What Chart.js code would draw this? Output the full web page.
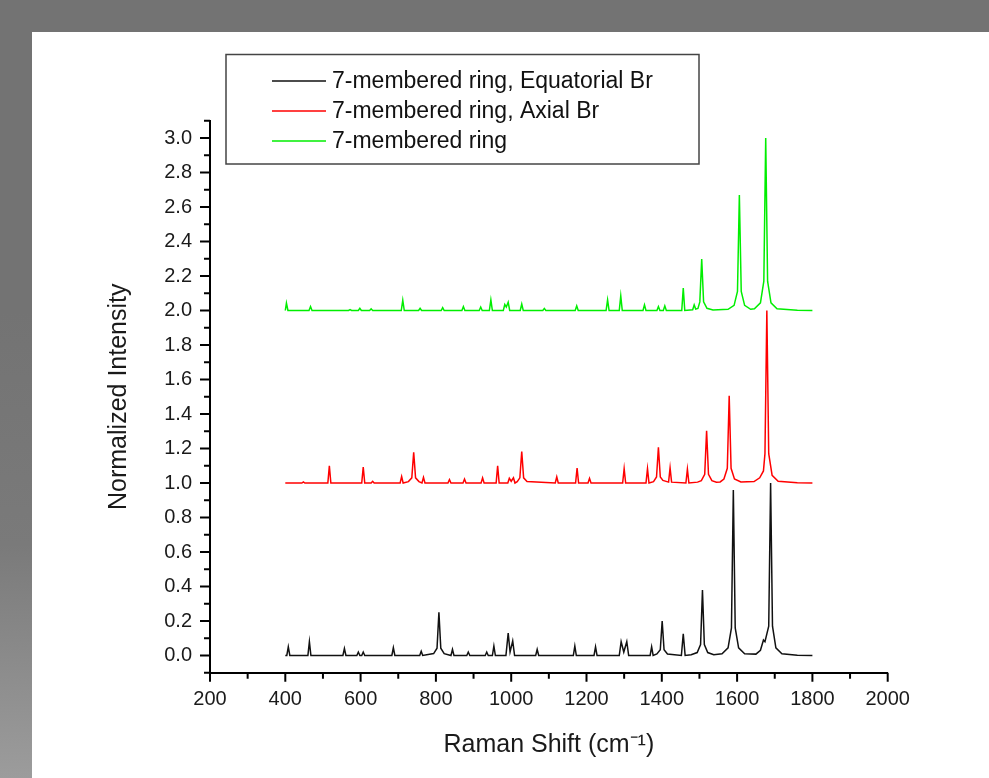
<!DOCTYPE html>
<html>
<head>
<meta charset="utf-8">
<script src="https://cdn.jsdelivr.net/npm/chart.js@4.4.1/dist/chart.umd.min.js"></script>
<style>
  html, body { margin: 0; padding: 0; }
  body {
    width: 989px; height: 778px; position: relative; overflow: hidden;
    background: linear-gradient(to top, #9c9c9c 0%, #7a7a7a 30%, #737373 60%, #737373 100%);
  }
  #panel { position: absolute; left: 32px; top: 32px; right: 0; bottom: 0; background: #fff; }
  #chart { position: absolute; left: 0; top: 0; }
</style>
</head>
<body>
<div id="panel"></div>
<canvas id="chart" width="989" height="778"></canvas>
<script>
/* ===== DATA ===== */
const seriesNames = ["7-membered ring, Equatorial Br", "7-membered ring, Axial Br", "7-membered ring"];
const seriesColors = ["#111111", "#ff0000", "#00ee00"];

// 7-membered ring, Equatorial Br (baseline 0)
const eqShift = [400, 404, 408, 412, 460, 464, 468, 553, 557, 561, 590, 594, 598, 603, 607, 611,
  683, 687, 691, 757, 761, 765, 794, 803, 808, 813, 822, 840, 844, 848, 882, 886, 890,
  931, 935, 939, 950, 954, 958, 986, 992, 997, 1004, 1009, 1065, 1069, 1073,
  1165, 1169, 1173, 1220, 1224, 1228, 1287, 1292, 1299, 1307, 1312, 1369, 1373, 1377,
  1387, 1396, 1401, 1406, 1415, 1452, 1457, 1462,
  1478, 1494, 1503, 1508, 1513, 1522, 1538,
  1560, 1576, 1585, 1590, 1595, 1604, 1620,
  1650, 1662, 1670, 1674, 1684, 1689, 1694, 1703, 1719, 1760, 1800];
const eqInt = [0, 0, 0.05, 0, 0, 0.08, 0, 0, 0.04, 0, 0, 0.02, 0, 0, 0.02, 0,
  0, 0.045, 0, 0, 0.025, 0, 0.011, 0.042, 0.25, 0.042, 0.011, 0, 0.035, 0, 0, 0.02, 0,
  0, 0.02, 0, 0, 0.055, 0, 0, 0.13, 0.02, 0.085, 0, 0, 0.035, 0,
  0, 0.055, 0, 0, 0.05, 0, 0, 0.08, 0.02, 0.08, 0, 0, 0.05, 0,
  0.009, 0.033, 0.2, 0.033, 0.009, 0, 0.125, 0,
  0.004, 0.017, 0.063, 0.38, 0.063, 0.017, 0.004,
  0.01, 0.044, 0.16, 0.96, 0.16, 0.044, 0.01,
  0.008, 0.03, 0.09, 0.08, 0.17, 1.0, 0.17, 0.044, 0.01, 0.002, 0];

// 7-membered ring, Axial Br (baseline 1)
const axShift = [400, 444, 448, 452, 513, 517, 521, 603, 607, 611, 628, 632, 636, 705, 709, 713,
  727, 736, 741, 746, 755, 763, 767, 771, 832, 836, 840, 872, 876, 880, 920, 924, 928,
  960, 964, 968, 991, 995, 1000, 1006, 1010, 1016, 1023, 1028, 1033, 1042,
  1117, 1121, 1125, 1171, 1175, 1179, 1204, 1208, 1212, 1296, 1300, 1304, 1358, 1362, 1366,
  1378, 1386, 1391, 1396, 1403, 1418, 1422, 1426, 1464, 1468, 1472,
  1495, 1505, 1514, 1519, 1524, 1533, 1545,
  1555, 1565, 1574, 1579, 1584, 1593, 1610,
  1645, 1660, 1670, 1674, 1679, 1684, 1693, 1709, 1760, 1800];
const axInt = [1, 1, 1.006, 1, 1, 1.1, 1, 1, 1.093, 1, 1, 1.01, 1, 1, 1.037, 1,
  1.008, 1.03, 1.178, 1.03, 1.008, 1, 1.033, 1, 1, 1.02, 1, 1, 1.023, 1, 1, 1.03, 1,
  1, 1.1, 1, 1, 1.027, 1.01, 1.03, 1, 1.008, 1.03, 1.183, 1.03, 1.008,
  1, 1.035, 1, 1, 1.087, 1, 1, 1.027, 1, 1, 1.083, 1, 1, 1.083, 1,
  1.008, 1.035, 1.207, 1.035, 1.015, 1.005, 1.088, 1.005, 1, 1.08, 1,
  1.005, 1.014, 1.05, 1.303, 1.05, 1.014, 1.005,
  1.006, 1.023, 1.085, 1.506, 1.085, 1.023, 1.006,
  1.008, 1.03, 1.07, 1.17, 2.0, 1.17, 1.044, 1.01, 1.002, 1];

// 7-membered ring (baseline 2)
const ringShift = [400, 403, 407, 463, 467, 471, 568, 572, 576, 594, 598, 602, 624, 628, 632,
  708, 712, 716, 754, 758, 762, 814, 818, 822, 869, 873, 877, 915, 919, 923, 942, 946, 950,
  979, 983, 987, 992, 996, 1024, 1028, 1032, 1084, 1088, 1092, 1170, 1174, 1178,
  1252, 1256, 1260, 1287, 1291, 1295, 1350, 1354, 1358, 1387, 1391, 1395, 1404, 1408, 1412,
  1453, 1457, 1461, 1482, 1486, 1490,
  1496, 1501, 1506, 1511, 1520, 1536,
  1576, 1592, 1601, 1606, 1611, 1620, 1636,
  1646, 1662, 1671, 1676, 1681, 1690, 1706, 1760, 1800];
const ringInt = [2, 2.043, 2, 2, 2.023, 2, 2, 2.005, 2, 2, 2.013, 2, 2, 2.01, 2,
  2, 2.06, 2, 2, 2.013, 2, 2, 2.017, 2, 2, 2.023, 2, 2, 2.02, 2, 2, 2.062, 2,
  2, 2.035, 2.02, 2.048, 2, 2, 2.037, 2, 2, 2.012, 2, 2, 2.027, 2,
  2, 2.062, 2, 2, 2.085, 2, 2, 2.033, 2, 2, 2.023, 2, 2, 2.027, 2,
  2, 2.13, 2, 2.004, 2.033, 2.008,
  2.012, 2.05, 2.298, 2.05, 2.013, 2.003,
  2.007, 2.03, 2.11, 2.67, 2.11, 2.03, 2.007,
  2.01, 2.044, 2.17, 3.0, 2.17, 2.044, 2.01, 2.002, 2];

/* ===== AXES ===== */
const xMin = 200, xMax = 2000, xStep = 100, xLabelStep = 200;
const yMin = -0.1, yMax = 3.1, yStep = 0.1;
const xTitle = "Raman Shift (cm\u207B\u00B9)";
const yTitle = "Normalized Intensity";

const FONT = "'Liberation Sans', Arial, sans-serif";

const toPoints = (xs, ys) => xs.map((x, i) => ({ x: x, y: ys[i] }));
const allShift = [eqShift, axShift, ringShift];
const allInt = [eqInt, axInt, ringInt];

// tick marks (major longer than minor) + boxed legend
const extras = {
  id: "extras",
  afterDraw(chart) {
    const ctx = chart.ctx;
    const area = chart.chartArea;
    const xs = chart.scales.x, ys = chart.scales.y;
    ctx.save();
    ctx.strokeStyle = "#000";
    ctx.lineWidth = 2;
    xs.ticks.forEach(t => {
      const px = xs.getPixelForValue(t.value);
      const len = t.label !== "" ? 9 : 6;
      ctx.beginPath();
      ctx.moveTo(px, area.bottom);
      ctx.lineTo(px, area.bottom + len);
      ctx.stroke();
    });
    ys.ticks.forEach(t => {
      const py = ys.getPixelForValue(t.value);
      const len = t.label !== "" ? 10 : 6;
      ctx.beginPath();
      ctx.moveTo(area.left, py);
      ctx.lineTo(area.left - len, py);
      ctx.stroke();
    });

    // legend
    ctx.lineWidth = 1.5;
    ctx.strokeStyle = "#444";
    ctx.strokeRect(226, 54.5, 473, 109.5);
    ctx.font = "23px " + FONT;
    ctx.textBaseline = "middle";
    ctx.textAlign = "left";
    chart.data.datasets.forEach((ds, i) => {
      const y = 81 + i * 30;
      ctx.strokeStyle = ds.borderColor;
      ctx.beginPath();
      ctx.moveTo(272, y);
      ctx.lineTo(326, y);
      ctx.stroke();
      ctx.fillStyle = "#111";
      ctx.fillText(ds.label, 332, y + 1);
    });
    ctx.restore();
  }
};

new Chart(document.getElementById("chart"), {
  type: "line",
  data: {
    datasets: seriesNames.map((name, i) => ({
      label: name,
      data: toPoints(allShift[i], allInt[i]),
      borderColor: seriesColors[i],
      borderWidth: 1.5,
      pointRadius: 0,
      tension: 0,
      fill: false
    }))
  },
  options: {
    responsive: false,
    animation: false,
    layout: { padding: { left: 32, top: 120.75, right: 101.3, bottom: 0 } },
    plugins: {
      legend: { display: false },
      tooltip: { enabled: false }
    },
    scales: {
      x: {
        type: "linear",
        min: xMin,
        max: xMax,
        afterFit: s => { s.height = 105.25; },
        border: { display: true, color: "#000", width: 2 },
        grid: { display: true, drawOnChartArea: false, drawTicks: false },
        ticks: {
          stepSize: xStep,
          maxTicksLimit: 1000,
          autoSkip: false,
          maxRotation: 0,
          padding: 15,
          color: "#1a1a1a",
          font: { family: FONT, size: 20 },
          callback: v => (v % xLabelStep === 0 ? String(v) : "")
        },
        title: {
          display: true,
          text: xTitle,
          color: "#1a1a1a",
          font: { family: FONT, size: 25 },
          padding: { top: 0, bottom: 18 }
        }
      },
      y: {
        type: "linear",
        min: yMin,
        max: yMax,
        afterFit: s => { s.width = 178; },
        border: { display: true, color: "#000", width: 2 },
        grid: { display: true, drawOnChartArea: false, drawTicks: false },
        ticks: {
          stepSize: yStep,
          maxTicksLimit: 1000,
          autoSkip: false,
          padding: 18,
          color: "#1a1a1a",
          font: { family: FONT, size: 20 },
          callback: v => (Math.round(v * 10) % 2 === 0 ? v.toFixed(1) : "")
        },
        title: {
          display: true,
          text: yTitle,
          color: "#1a1a1a",
          font: { family: FONT, size: 25 },
          padding: { top: 72, bottom: 0 }
        }
      }
    }
  },
  plugins: [extras]
});
</script>
</body>
</html>
